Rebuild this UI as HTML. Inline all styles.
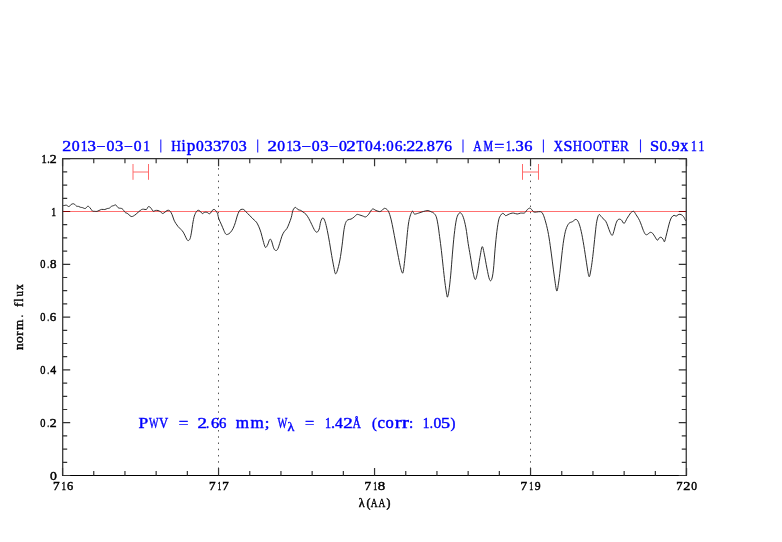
<!DOCTYPE html>
<html><head><meta charset="utf-8"><style>
html,body{margin:0;padding:0;background:#fff;}
svg{display:block;will-change:transform;}
text{font-family:"Liberation Serif", serif;}
</style></head><body>
<svg width="782" height="542" viewBox="0 0 782 542">
<rect width="782" height="542" fill="#fff"/>
<!-- dotted verticals -->
<line x1="218.5" y1="161.915" x2="218.5" y2="475" stroke="#555" stroke-width="1" stroke-dasharray="1.5 4.735"/>
<line x1="530.5" y1="161.915" x2="530.5" y2="475" stroke="#555" stroke-width="1" stroke-dasharray="1.5 4.735"/>
<!-- red unity line -->
<line x1="62.7" y1="211.5" x2="686.25" y2="211.5" stroke="#ff7070" stroke-width="1"/>
<!-- spectrum -->
<path d="M63.00 205.60 C63.20 205.58 63.63 205.57 64.20 205.50 C64.77 205.43 65.60 205.02 66.40 205.20 C67.20 205.38 68.20 206.73 69.00 206.60 C69.80 206.47 70.47 204.88 71.20 204.40 C71.93 203.93 72.82 203.75 73.40 203.75 C73.98 203.75 74.17 203.99 74.70 204.40 C75.23 204.81 75.97 205.87 76.60 206.20 C77.23 206.53 77.85 206.22 78.50 206.40 C79.15 206.58 79.85 207.10 80.50 207.30 C81.15 207.50 81.60 207.40 82.40 207.60 C83.20 207.80 84.40 208.73 85.30 208.50 C86.20 208.27 87.07 206.37 87.80 206.20 C88.53 206.03 89.12 206.95 89.70 207.50 C90.28 208.05 90.82 208.90 91.30 209.50 C91.78 210.10 92.07 210.80 92.60 211.10 C93.13 211.40 93.80 211.25 94.50 211.30 C95.20 211.35 96.05 211.53 96.80 211.40 C97.55 211.27 98.20 210.83 99.00 210.50 C99.80 210.17 100.63 209.57 101.60 209.40 C102.57 209.23 103.85 209.65 104.80 209.50 C105.75 209.35 106.55 208.72 107.30 208.50 C108.05 208.28 108.60 208.57 109.30 208.20 C110.00 207.83 110.82 206.72 111.50 206.30 C112.18 205.88 112.75 205.93 113.40 205.70 C114.05 205.47 114.92 204.95 115.40 204.90 C115.88 204.85 115.88 204.97 116.30 205.40 C116.72 205.83 117.37 207.03 117.90 207.50 C118.43 207.97 118.92 208.05 119.50 208.20 C120.08 208.35 120.82 208.18 121.40 208.40 C121.98 208.62 122.52 209.00 123.00 209.50 C123.48 210.00 123.92 210.88 124.30 211.40 C124.68 211.92 124.82 212.28 125.30 212.60 C125.78 212.92 126.57 212.92 127.20 213.30 C127.83 213.68 128.47 214.38 129.10 214.90 C129.73 215.42 130.42 216.15 131.00 216.40 C131.58 216.65 132.02 216.58 132.60 216.40 C133.18 216.22 133.85 215.72 134.50 215.30 C135.15 214.88 135.85 214.47 136.50 213.90 C137.15 213.33 137.77 212.47 138.40 211.90 C139.03 211.33 139.77 210.90 140.30 210.50 C140.83 210.10 141.07 209.72 141.60 209.50 C142.13 209.28 142.70 209.20 143.50 209.20 C144.30 209.20 145.72 209.78 146.40 209.50 C147.08 209.22 147.23 207.98 147.60 207.50 C147.97 207.02 148.12 206.60 148.60 206.60 C149.08 206.60 149.92 206.97 150.50 207.50 C151.08 208.03 151.62 209.17 152.10 209.80 C152.58 210.43 152.87 211.18 153.40 211.30 C153.93 211.42 154.53 210.63 155.30 210.50 C156.07 210.37 157.12 210.28 158.00 210.50 C158.88 210.72 159.83 211.30 160.60 211.80 C161.37 212.30 161.90 213.42 162.60 213.50 C163.30 213.58 164.05 212.80 164.80 212.30 C165.55 211.80 166.33 210.80 167.10 210.50 C167.87 210.20 168.72 210.12 169.40 210.50 C170.08 210.88 170.67 211.88 171.20 212.80 C171.73 213.72 172.13 214.78 172.60 216.00 C173.07 217.22 173.47 218.87 174.00 220.10 C174.53 221.33 175.12 222.32 175.80 223.40 C176.48 224.48 177.25 225.60 178.10 226.60 C178.95 227.60 180.05 228.48 180.90 229.40 C181.75 230.32 182.50 231.03 183.20 232.10 C183.90 233.17 184.48 234.57 185.10 235.80 C185.72 237.03 186.37 238.70 186.90 239.50 C187.43 240.30 187.77 240.75 188.30 240.60 C188.83 240.45 189.57 240.02 190.10 238.60 C190.63 237.18 191.08 234.45 191.50 232.10 C191.92 229.75 192.27 226.60 192.60 224.50 C192.93 222.40 193.22 220.90 193.50 219.50 C193.78 218.10 193.98 217.12 194.30 216.10 C194.62 215.08 195.03 214.17 195.40 213.40 C195.77 212.63 196.12 212.00 196.50 211.50 C196.88 211.00 197.25 210.57 197.70 210.40 C198.15 210.23 198.70 210.25 199.20 210.50 C199.70 210.75 200.18 211.38 200.70 211.90 C201.22 212.42 201.78 213.47 202.30 213.60 C202.82 213.73 203.30 212.93 203.80 212.70 C204.30 212.47 204.72 212.23 205.30 212.20 C205.88 212.17 206.65 212.23 207.30 212.50 C207.95 212.77 208.63 213.73 209.20 213.80 C209.77 213.87 210.20 213.45 210.70 212.90 C211.20 212.35 211.65 211.08 212.20 210.50 C212.75 209.92 213.45 209.42 214.00 209.40 C214.55 209.38 215.02 209.92 215.50 210.40 C215.98 210.88 216.52 211.62 216.90 212.30 C217.28 212.98 217.48 213.42 217.80 214.50 C218.12 215.58 218.18 217.08 218.80 218.80 C219.42 220.52 220.67 222.88 221.50 224.80 C222.33 226.72 223.10 228.77 223.80 230.30 C224.50 231.83 225.08 233.32 225.70 234.00 C226.32 234.68 226.73 234.63 227.50 234.40 C228.27 234.17 229.37 233.60 230.30 232.60 C231.23 231.60 232.25 230.10 233.10 228.40 C233.95 226.70 234.72 224.47 235.40 222.40 C236.08 220.33 236.58 217.83 237.20 216.00 C237.82 214.17 238.48 212.48 239.10 211.40 C239.72 210.32 240.13 209.82 240.90 209.50 C241.67 209.18 242.85 209.12 243.70 209.50 C244.55 209.88 245.08 210.87 246.00 211.80 C246.92 212.73 248.20 214.10 249.20 215.10 C250.20 216.10 251.17 216.97 252.00 217.80 C252.83 218.63 253.47 219.38 254.20 220.10 C254.93 220.82 255.67 221.08 256.40 222.10 C257.13 223.12 257.85 224.50 258.60 226.20 C259.35 227.90 260.15 229.90 260.90 232.30 C261.65 234.70 262.37 238.10 263.10 240.60 C263.83 243.10 264.57 246.55 265.30 247.30 C266.03 248.05 266.77 246.40 267.50 245.10 C268.23 243.80 269.05 240.25 269.70 239.50 C270.35 238.75 270.75 239.22 271.40 240.60 C272.05 241.98 272.95 246.18 273.60 247.80 C274.25 249.42 274.65 250.02 275.30 250.30 C275.95 250.58 276.77 250.65 277.50 249.50 C278.23 248.35 278.97 245.62 279.70 243.40 C280.43 241.18 281.17 238.13 281.90 236.20 C282.63 234.27 283.27 233.08 284.10 231.80 C284.93 230.52 286.07 229.88 286.90 228.50 C287.73 227.12 288.37 225.35 289.10 223.50 C289.83 221.65 290.65 219.62 291.30 217.40 C291.95 215.18 292.32 211.87 293.00 210.20 C293.68 208.53 294.57 207.50 295.40 207.40 C296.23 207.30 297.12 209.10 298.00 209.60 C298.88 210.10 299.87 210.00 300.70 210.40 C301.53 210.80 302.13 211.37 303.00 212.00 C303.87 212.63 304.92 213.08 305.90 214.20 C306.88 215.32 307.92 216.97 308.90 218.70 C309.88 220.43 310.82 222.63 311.80 224.60 C312.78 226.57 313.93 229.23 314.80 230.50 C315.67 231.77 316.27 232.45 317.00 232.20 C317.73 231.95 318.58 230.77 319.20 229.00 C319.82 227.23 320.08 223.45 320.70 221.60 C321.32 219.75 322.17 217.90 322.90 217.90 C323.63 217.90 324.37 219.50 325.10 221.60 C325.83 223.70 326.57 227.05 327.30 230.50 C328.03 233.95 328.77 238.12 329.50 242.30 C330.23 246.48 330.97 251.42 331.70 255.60 C332.43 259.78 333.30 264.40 333.90 267.40 C334.50 270.40 334.77 272.95 335.30 273.60 C335.83 274.25 336.33 273.57 337.10 271.30 C337.87 269.03 339.07 264.35 339.90 260.00 C340.73 255.65 341.42 250.25 342.10 245.20 C342.78 240.15 343.38 233.50 344.00 229.70 C344.62 225.90 345.13 224.05 345.80 222.40 C346.47 220.75 347.13 220.35 348.00 219.80 C348.87 219.25 350.02 219.53 351.00 219.10 C351.98 218.67 352.92 217.97 353.90 217.20 C354.88 216.43 355.92 214.87 356.90 214.50 C357.88 214.13 358.82 214.75 359.80 215.00 C360.78 215.25 361.82 215.68 362.80 216.00 C363.78 216.32 364.72 217.20 365.70 216.90 C366.68 216.60 367.58 215.50 368.70 214.20 C369.82 212.90 371.18 209.72 372.40 209.10 C373.62 208.48 374.78 210.08 376.00 210.50 C377.22 210.92 378.72 211.60 379.70 211.60 C380.68 211.60 381.08 211.05 381.90 210.50 C382.72 209.95 383.60 208.30 384.60 208.30 C385.60 208.30 386.97 209.20 387.90 210.50 C388.83 211.80 389.48 213.78 390.20 216.10 C390.92 218.42 391.52 221.18 392.20 224.40 C392.88 227.62 393.60 231.72 394.30 235.40 C395.00 239.08 395.70 242.80 396.40 246.50 C397.10 250.20 397.82 254.13 398.50 257.60 C399.18 261.07 399.87 264.77 400.50 267.30 C401.13 269.83 401.83 272.12 402.30 272.80 C402.77 273.48 402.90 273.48 403.30 271.40 C403.70 269.32 404.23 264.45 404.70 260.30 C405.17 256.15 405.65 251.10 406.10 246.50 C406.55 241.90 406.95 236.85 407.40 232.70 C407.85 228.55 408.27 224.60 408.80 221.60 C409.33 218.60 409.97 216.43 410.60 214.70 C411.23 212.97 411.97 211.32 412.60 211.20 C413.23 211.08 413.40 213.68 414.40 214.00 C415.40 214.32 417.12 213.52 418.60 213.10 C420.08 212.68 421.73 211.92 423.30 211.50 C424.87 211.08 426.58 210.50 428.00 210.60 C429.42 210.70 430.88 211.72 431.80 212.10 C432.72 212.48 432.78 212.18 433.50 212.90 C434.22 213.62 435.37 214.50 436.10 216.40 C436.83 218.30 437.32 220.93 437.90 224.30 C438.48 227.67 439.02 232.22 439.60 236.60 C440.18 240.98 440.82 245.65 441.40 250.60 C441.98 255.55 442.52 261.05 443.10 266.30 C443.68 271.55 444.30 277.42 444.90 282.10 C445.50 286.78 446.27 291.92 446.70 294.40 C447.13 296.88 447.13 297.58 447.50 297.00 C447.87 296.42 448.37 294.55 448.90 290.90 C449.43 287.25 450.12 281.23 450.70 275.10 C451.28 268.97 451.82 260.82 452.40 254.10 C452.98 247.38 453.55 240.50 454.20 234.80 C454.85 229.10 455.60 223.35 456.30 219.90 C457.00 216.45 457.67 215.27 458.40 214.10 C459.13 212.93 459.88 212.37 460.70 212.90 C461.52 213.43 462.43 214.82 463.30 217.30 C464.17 219.78 465.08 223.42 465.90 227.80 C466.72 232.18 467.47 238.93 468.20 243.60 C468.93 248.27 469.52 251.13 470.30 255.80 C471.08 260.47 472.08 267.65 472.90 271.60 C473.72 275.55 474.47 279.20 475.20 279.50 C475.93 279.80 476.52 277.05 477.30 273.40 C478.08 269.75 479.08 262.05 479.90 257.60 C480.72 253.15 481.47 247.28 482.20 246.70 C482.93 246.12 483.52 250.53 484.30 254.10 C485.08 257.67 486.03 263.87 486.90 268.10 C487.77 272.33 488.72 277.60 489.50 279.50 C490.28 281.40 490.95 281.10 491.60 279.50 C492.25 277.90 492.82 275.02 493.40 269.90 C493.98 264.78 494.52 255.23 495.10 248.80 C495.68 242.37 496.30 236.12 496.90 231.30 C497.50 226.48 498.10 222.53 498.70 219.90 C499.30 217.27 499.87 216.58 500.50 215.50 C501.13 214.42 501.92 213.65 502.50 213.40 C503.08 213.15 503.47 213.62 504.00 214.00 C504.53 214.38 505.03 215.60 505.70 215.70 C506.37 215.80 507.13 214.98 508.00 214.60 C508.87 214.22 509.95 213.65 510.90 213.40 C511.85 213.15 512.65 213.00 513.70 213.10 C514.75 213.20 516.05 214.00 517.20 214.00 C518.35 214.00 519.37 213.28 520.60 213.10 C521.83 212.92 523.45 213.52 524.60 212.90 C525.75 212.28 526.60 210.20 527.50 209.40 C528.40 208.60 529.25 208.00 530.00 208.10 C530.75 208.20 531.37 209.35 532.00 210.00 C532.63 210.65 533.03 211.67 533.80 212.00 C534.57 212.33 535.47 212.05 536.60 212.00 C537.73 211.95 539.55 211.37 540.60 211.70 C541.65 212.03 542.12 212.48 542.90 214.00 C543.68 215.52 544.47 217.92 545.30 220.80 C546.13 223.68 547.08 227.22 547.90 231.30 C548.72 235.38 549.47 240.33 550.20 245.30 C550.93 250.27 551.60 255.83 552.30 261.10 C553.00 266.37 553.67 271.93 554.40 276.90 C555.13 281.87 556.03 289.73 556.70 290.90 C557.37 292.07 557.82 287.40 558.40 283.90 C558.98 280.40 559.62 274.87 560.20 269.90 C560.78 264.93 561.32 259.07 561.90 254.10 C562.48 249.13 563.03 244.20 563.70 240.10 C564.37 236.00 565.03 232.28 565.90 229.50 C566.77 226.72 567.82 224.70 568.90 223.40 C569.98 222.10 571.23 222.37 572.40 221.70 C573.57 221.03 574.87 219.27 575.90 219.40 C576.93 219.53 577.72 220.52 578.60 222.50 C579.48 224.48 580.33 227.50 581.20 231.30 C582.07 235.10 582.92 240.05 583.80 245.30 C584.68 250.55 585.77 258.12 586.50 262.80 C587.23 267.48 587.72 271.10 588.20 273.40 C588.68 275.70 588.95 277.18 589.40 276.60 C589.85 276.02 590.40 272.73 590.90 269.90 C591.40 267.07 591.90 263.53 592.40 259.60 C592.90 255.67 593.42 250.73 593.90 246.30 C594.38 241.87 594.82 237.18 595.30 233.00 C595.78 228.82 596.18 224.27 596.80 221.20 C597.42 218.13 598.13 215.22 599.00 214.60 C599.87 213.98 600.88 216.40 602.00 217.50 C603.12 218.60 604.72 219.72 605.70 221.20 C606.68 222.68 607.17 224.55 607.90 226.40 C608.63 228.25 609.37 230.82 610.10 232.30 C610.83 233.78 611.62 235.67 612.30 235.30 C612.98 234.93 613.58 232.08 614.20 230.10 C614.82 228.12 615.33 225.17 616.00 223.40 C616.67 221.63 617.33 220.10 618.20 219.50 C619.07 218.90 620.22 219.15 621.20 219.80 C622.18 220.45 623.12 223.65 624.10 223.40 C625.08 223.15 626.12 219.88 627.10 218.30 C628.08 216.72 629.28 214.92 630.00 213.90 C630.72 212.88 630.77 212.62 631.40 212.20 C632.03 211.78 633.07 211.05 633.80 211.40 C634.53 211.75 635.15 213.33 635.80 214.30 C636.45 215.27 637.07 216.15 637.70 217.20 C638.33 218.25 638.97 219.23 639.60 220.60 C640.23 221.97 640.87 223.73 641.50 225.40 C642.13 227.07 642.75 229.12 643.40 230.60 C644.05 232.08 644.75 233.65 645.40 234.30 C646.05 234.95 646.50 234.82 647.30 234.50 C648.10 234.18 649.32 232.60 650.20 232.40 C651.08 232.20 651.80 232.55 652.60 233.30 C653.40 234.05 654.20 235.75 655.00 236.90 C655.80 238.05 656.68 240.05 657.40 240.20 C658.12 240.35 658.67 238.28 659.30 237.80 C659.93 237.32 660.57 237.05 661.20 237.30 C661.83 237.55 662.55 238.57 663.10 239.30 C663.65 240.03 664.02 242.18 664.50 241.70 C664.98 241.22 665.43 238.57 666.00 236.40 C666.57 234.23 667.27 231.18 667.90 228.70 C668.53 226.22 669.17 223.42 669.80 221.50 C670.43 219.58 670.98 218.23 671.70 217.20 C672.42 216.17 673.37 215.47 674.10 215.30 C674.83 215.13 675.45 216.28 676.10 216.20 C676.75 216.12 677.37 215.12 678.00 214.80 C678.63 214.48 679.18 214.22 679.90 214.30 C680.62 214.38 681.58 214.73 682.30 215.30 C683.02 215.87 683.63 216.75 684.20 217.70 C684.77 218.65 685.45 220.45 685.70 221.00" fill="none" stroke="#222" stroke-width="0.95" stroke-linejoin="round"/>
<!-- error bars -->
<g stroke="#ff6a6a" stroke-width="1" fill="none">
<path d="M133 164 V179.8 M148.5 164 V179.8 M133 172 H148.5"/>
<path d="M522.5 164 V179.8 M538.5 164 V179.8 M522.5 172 H538.5"/>
</g>
<!-- frame -->
<path d="M62.7 158.1 V476.0 M686.25 158.1 V476.0 M62.1 158.7 H686.85" fill="none" stroke="#333" stroke-width="1.25"/>
<path d="M62.1 475.5 H686.85" fill="none" stroke="#000" stroke-width="1"/>
<path d="M62.55 475.50 L62.55 468.00 M62.55 158.70 L62.55 166.20 M93.75 475.50 L93.75 471.00 M93.75 158.70 L93.75 163.20 M124.95 475.50 L124.95 471.00 M124.95 158.70 L124.95 163.20 M156.15 475.50 L156.15 471.00 M156.15 158.70 L156.15 163.20 M187.35 475.50 L187.35 471.00 M187.35 158.70 L187.35 163.20 M218.55 475.50 L218.55 468.00 M218.55 158.70 L218.55 166.20 M249.75 475.50 L249.75 471.00 M249.75 158.70 L249.75 163.20 M280.95 475.50 L280.95 471.00 M280.95 158.70 L280.95 163.20 M312.15 475.50 L312.15 471.00 M312.15 158.70 L312.15 163.20 M343.35 475.50 L343.35 471.00 M343.35 158.70 L343.35 163.20 M374.55 475.50 L374.55 468.00 M374.55 158.70 L374.55 166.20 M405.75 475.50 L405.75 471.00 M405.75 158.70 L405.75 163.20 M436.95 475.50 L436.95 471.00 M436.95 158.70 L436.95 163.20 M468.15 475.50 L468.15 471.00 M468.15 158.70 L468.15 163.20 M499.35 475.50 L499.35 471.00 M499.35 158.70 L499.35 163.20 M530.55 475.50 L530.55 468.00 M530.55 158.70 L530.55 166.20 M561.75 475.50 L561.75 471.00 M561.75 158.70 L561.75 163.20 M592.95 475.50 L592.95 471.00 M592.95 158.70 L592.95 163.20 M624.15 475.50 L624.15 471.00 M624.15 158.70 L624.15 163.20 M655.35 475.50 L655.35 471.00 M655.35 158.70 L655.35 163.20 M686.55 475.50 L686.55 468.00 M686.55 158.70 L686.55 166.20 M62.70 475.50 L70.20 475.50 M686.25 475.50 L678.75 475.50 M62.70 462.30 L67.20 462.30 M686.25 462.30 L681.75 462.30 M62.70 449.10 L67.20 449.10 M686.25 449.10 L681.75 449.10 M62.70 435.90 L67.20 435.90 M686.25 435.90 L681.75 435.90 M62.70 422.70 L70.20 422.70 M686.25 422.70 L678.75 422.70 M62.70 409.50 L67.20 409.50 M686.25 409.50 L681.75 409.50 M62.70 396.30 L67.20 396.30 M686.25 396.30 L681.75 396.30 M62.70 383.10 L67.20 383.10 M686.25 383.10 L681.75 383.10 M62.70 369.90 L70.20 369.90 M686.25 369.90 L678.75 369.90 M62.70 356.70 L67.20 356.70 M686.25 356.70 L681.75 356.70 M62.70 343.50 L67.20 343.50 M686.25 343.50 L681.75 343.50 M62.70 330.30 L67.20 330.30 M686.25 330.30 L681.75 330.30 M62.70 317.10 L70.20 317.10 M686.25 317.10 L678.75 317.10 M62.70 303.90 L67.20 303.90 M686.25 303.90 L681.75 303.90 M62.70 290.70 L67.20 290.70 M686.25 290.70 L681.75 290.70 M62.70 277.50 L67.20 277.50 M686.25 277.50 L681.75 277.50 M62.70 264.30 L70.20 264.30 M686.25 264.30 L678.75 264.30 M62.70 251.10 L67.20 251.10 M686.25 251.10 L681.75 251.10 M62.70 237.90 L67.20 237.90 M686.25 237.90 L681.75 237.90 M62.70 224.70 L67.20 224.70 M686.25 224.70 L681.75 224.70 M62.70 211.50 L70.20 211.50 M686.25 211.50 L678.75 211.50 M62.70 198.30 L67.20 198.30 M686.25 198.30 L681.75 198.30 M62.70 185.10 L67.20 185.10 M686.25 185.10 L681.75 185.10 M62.70 171.90 L67.20 171.90 M686.25 171.90 L681.75 171.90 M62.70 158.70 L70.20 158.70 M686.25 158.70 L678.75 158.70" stroke="#333" stroke-width="1.2" fill="none"/>
<path d="M63.3 211.5 H70.0 M679.0 211.5 H685.7" stroke="#8a0000" stroke-width="1"/>
<!-- title -->
<g class="gs" fill="#0000ff" stroke="#0000ff" stroke-width="0.4" font-size="13.7">
<text transform="translate(62.31 150.50) scale(1.311 1.000)">2</text>
<text transform="translate(71.70 150.50) scale(1.154 1.000)">0</text>
<text transform="translate(80.70 150.50) scale(0.995 1.000)">1</text>
<text transform="translate(87.49 150.50) scale(1.237 1.000)">3</text>
<text transform="translate(96.51 150.50) scale(1.161 1.000)">−</text>
<text transform="translate(106.60 150.50) scale(1.154 1.000)">0</text>
<text transform="translate(115.10 150.50) scale(1.219 1.000)">3</text>
<text transform="translate(124.02 150.50) scale(1.145 1.000)">−</text>
<text transform="translate(133.81 150.50) scale(1.137 1.000)">0</text>
<text transform="translate(143.13 150.50) scale(0.974 1.000)">1</text>
<text transform="translate(171.21 150.50) scale(0.978 1.000)">H</text>
<text transform="translate(181.49 150.50) scale(1.074 1.150)">i</text>
<text transform="translate(186.72 150.50) scale(1.247 1.150)">p</text>
<text transform="translate(195.91 150.50) scale(1.137 1.000)">0</text>
<text transform="translate(204.29 150.50) scale(1.237 1.000)">3</text>
<text transform="translate(212.89 150.50) scale(1.237 1.000)">3</text>
<text transform="translate(220.98 150.50) scale(1.243 1.000)">7</text>
<text transform="translate(230.41 150.50) scale(1.137 1.000)">0</text>
<text transform="translate(238.84 150.50) scale(1.166 1.000)">3</text>
<text transform="translate(267.47 150.50) scale(1.384 1.000)">2</text>
<text transform="translate(277.31 150.50) scale(1.137 1.000)">0</text>
<text transform="translate(286.40 150.50) scale(0.912 1.000)">1</text>
<text transform="translate(292.80 150.50) scale(1.219 1.000)">3</text>
<text transform="translate(301.55 150.50) scale(1.239 1.000)">−</text>
<text transform="translate(311.70 150.50) scale(1.154 1.000)">0</text>
<text transform="translate(320.20 150.50) scale(1.219 1.000)">3</text>
<text transform="translate(329.09 150.50) scale(1.192 1.000)">−</text>
<text transform="translate(338.90 150.50) scale(1.154 1.000)">0</text>
<text transform="translate(346.27 150.50) scale(1.384 1.000)">2</text>
<text transform="translate(356.47 150.50) scale(0.925 1.000)">T</text>
<text transform="translate(365.11 150.50) scale(1.137 1.000)">0</text>
<text transform="translate(373.40 150.50) scale(1.131 1.000)">4</text>
<text transform="translate(381.89 150.50) scale(0.930 1.000)">:</text>
<text transform="translate(386.23 150.50) scale(1.085 1.000)">0</text>
<text transform="translate(394.64 150.50) scale(1.128 1.000)">6</text>
<text transform="translate(402.82 150.50) scale(0.992 1.000)">:</text>
<text transform="translate(406.30 150.50) scale(1.329 1.000)">2</text>
<text transform="translate(415.04 150.50) scale(1.256 1.000)">2</text>
<text transform="translate(423.26 150.50) scale(0.927 1.000)">.</text>
<text transform="translate(426.78 150.50) scale(1.188 1.000)">8</text>
<text transform="translate(435.36 150.50) scale(1.261 1.000)">7</text>
<text transform="translate(444.24 150.50) scale(1.128 1.000)">6</text>
<text transform="translate(473.29 150.50) scale(0.849 1.000)">A</text>
<text transform="translate(483.59 150.50) scale(0.782 1.000)">M</text>
<text transform="translate(494.21 150.50) scale(1.302 1.000)">=</text>
<text transform="translate(506.08 150.50) scale(0.767 1.000)">1</text>
<text transform="translate(511.34 150.50) scale(1.174 1.000)">.</text>
<text transform="translate(515.61 150.50) scale(1.202 1.000)">3</text>
<text transform="translate(524.20 150.50) scale(1.196 1.000)">6</text>
<text transform="translate(553.72 150.50) scale(0.920 1.000)">X</text>
<text transform="translate(563.52 150.50) scale(1.179 1.000)">S</text>
<text transform="translate(572.83 150.50) scale(0.945 1.000)">H</text>
<text transform="translate(582.87 150.50) scale(0.946 1.000)">O</text>
<text transform="translate(593.00 150.50) scale(0.889 1.000)">O</text>
<text transform="translate(601.76 150.50) scale(0.963 1.000)">T</text>
<text transform="translate(610.89 150.50) scale(1.042 1.000)">E</text>
<text transform="translate(619.92 150.50) scale(0.974 1.000)">R</text>
<text transform="translate(650.10 150.50) scale(1.196 1.000)">S</text>
<text transform="translate(659.61 150.50) scale(1.137 1.000)">0</text>
<text transform="translate(667.50 150.50) scale(1.112 1.000)">.</text>
<text transform="translate(671.57 150.50) scale(1.197 1.000)">9</text>
<text transform="translate(680.26 150.50) scale(1.158 1.150)">x</text>
<text transform="translate(690.88 150.50) scale(0.850 1.000)">1</text>
<text transform="translate(698.58 150.50) scale(0.850 1.000)">1</text>
</g>
<g stroke="#2020ff" stroke-width="1.1">
<line x1="160.8" y1="139.4" x2="160.8" y2="152.5"/>
<line x1="257.7" y1="139.4" x2="257.7" y2="152.5"/>
<line x1="463.0" y1="139.4" x2="463.0" y2="152.5"/>
<line x1="543.4" y1="139.4" x2="543.4" y2="152.5"/>
<line x1="640.5" y1="139.4" x2="640.5" y2="152.5"/>
</g>
<!-- PWV -->
<g class="gs" fill="#0000ff" stroke="#0000ff" stroke-width="0.4" font-size="14.0">
<text transform="translate(138.60 427.70) scale(1.246 1.000)">P</text>
<text transform="translate(148.99 427.70) scale(0.721 1.000)">W</text>
<text transform="translate(159.06 427.70) scale(0.909 1.000)">V</text>
<text transform="translate(178.85 427.70) scale(1.213 1.000)">=</text>
<text transform="translate(197.47 427.70) scale(1.354 1.000)">2</text>
<text transform="translate(206.06 427.70) scale(0.907 1.000)">.</text>
<text transform="translate(211.01 427.70) scale(1.154 1.000)">6</text>
<text transform="translate(219.07 427.70) scale(1.053 1.000)">6</text>
<text transform="translate(235.74 427.70) scale(1.224 1.150)">m</text>
<text transform="translate(250.44 427.70) scale(1.224 1.150)">m</text>
<text transform="translate(264.63 427.70) scale(1.195 1.000)">;</text>
<text transform="translate(277.39 427.70) scale(0.744 1.000)">W</text>
<text transform="translate(304.99 427.70) scale(1.167 1.000)">=</text>
<text transform="translate(324.93 427.70) scale(0.872 1.000)">1</text>
<text transform="translate(330.94 427.70) scale(1.149 1.000)">.</text>
<text transform="translate(334.89 427.70) scale(1.122 1.000)">4</text>
<text transform="translate(343.37 427.70) scale(1.354 1.000)">2</text>
<text transform="translate(352.39 427.70) scale(0.831 1.000)">Å</text>
<text transform="translate(372.07 427.70) scale(1.029 1.000)">(</text>
<text transform="translate(377.46 427.70) scale(1.200 1.150)">c</text>
<text transform="translate(385.47 427.70) scale(1.180 1.150)">o</text>
<text transform="translate(394.69 427.70) scale(1.479 1.150)">r</text>
<text transform="translate(401.99 427.70) scale(1.479 1.150)">r</text>
<text transform="translate(408.89 427.70) scale(1.093 1.000)">:</text>
<text transform="translate(422.73 427.70) scale(0.954 1.000)">1</text>
<text transform="translate(429.76 427.70) scale(0.907 1.000)">.</text>
<text transform="translate(433.51 427.70) scale(1.112 1.000)">0</text>
<text transform="translate(441.05 427.70) scale(1.294 1.000)">5</text>
<text transform="translate(450.52 427.70) scale(1.057 1.000)">)</text>
<g font-size="12"><text transform="translate(287.53 431.20) scale(1.177 1.000)">λ</text></g>
</g>
<!-- y tick labels -->
<g class="gs" fill="#000" stroke="#000" stroke-width="0.45" font-size="12.3">
<text transform="translate(41.58 162.80) scale(0.854 1.000)">1</text>
<text transform="translate(47.13 162.80) scale(0.826 1.000)">.</text>
<text transform="translate(49.80 162.80) scale(1.115 1.000)">2</text>
<text transform="translate(51.35 215.60) scale(0.785 1.000)">1</text>
<text transform="translate(40.30 268.40) scale(0.844 1.000)">0</text>
<text transform="translate(47.30 268.40) scale(0.619 1.000)">.</text>
<text transform="translate(49.91 268.40) scale(1.055 1.000)">8</text>
<text transform="translate(40.30 321.20) scale(0.844 1.000)">0</text>
<text transform="translate(47.30 321.20) scale(0.619 1.000)">.</text>
<text transform="translate(49.85 321.20) scale(1.047 1.000)">6</text>
<text transform="translate(40.30 374.00) scale(0.844 1.000)">0</text>
<text transform="translate(47.30 374.00) scale(0.619 1.000)">.</text>
<text transform="translate(50.17 374.00) scale(0.962 1.000)">4</text>
<text transform="translate(40.30 426.80) scale(0.844 1.000)">0</text>
<text transform="translate(47.30 426.80) scale(0.619 1.000)">.</text>
<text transform="translate(49.80 426.80) scale(1.115 1.000)">2</text>
<text transform="translate(49.88 479.60) scale(1.113 1.000)">0</text>
</g>
<g class="gs" fill="#000" stroke="#000" stroke-width="0.45" font-size="12.3">
<text transform="translate(53.12 490.10) scale(1.083 1.000)">7</text>
<text transform="translate(61.50 490.10) scale(0.739 1.000)">1</text>
<text transform="translate(66.97 490.10) scale(1.009 1.000)">6</text>
<text transform="translate(209.08 490.10) scale(1.073 1.000)">7</text>
<text transform="translate(217.53 490.10) scale(0.624 1.000)">1</text>
<text transform="translate(222.14 490.10) scale(1.063 1.000)">7</text>
<text transform="translate(364.62 490.10) scale(1.083 1.000)">7</text>
<text transform="translate(373.20 490.10) scale(0.647 1.000)">1</text>
<text transform="translate(377.73 490.10) scale(1.208 1.000)">8</text>
<text transform="translate(520.42 490.10) scale(1.083 1.000)">7</text>
<text transform="translate(529.30 490.10) scale(0.647 1.000)">1</text>
<text transform="translate(534.72 490.10) scale(0.953 1.000)">9</text>
<text transform="translate(676.37 490.10) scale(1.023 1.000)">7</text>
<text transform="translate(683.28 490.10) scale(1.156 1.000)">2</text>
<text transform="translate(691.36 490.10) scale(0.940 1.000)">0</text>
</g>
<g class="gs" fill="#000" stroke="#000" stroke-width="0.45" font-size="11.8">
<text x="358.8" y="506.8" textLength="5.9" lengthAdjust="spacingAndGlyphs">λ</text>
<text x="366.6" y="506.6">(</text>
<text x="370.7" y="506.8" textLength="6.8" lengthAdjust="spacingAndGlyphs">A</text>
<text x="378.6" y="506.8" textLength="6.8" lengthAdjust="spacingAndGlyphs">A</text>
<text x="386.6" y="506.6">)</text>
</g>
<g class="gs" fill="#000" stroke="#000" stroke-width="0.4" font-size="12.4" transform="translate(22.8 0) rotate(-90)">
<text transform="translate(-350.01 0.00) scale(1.100 1.000)">n</text>
<text transform="translate(-343.12 0.00) scale(1.104 1.000)">o</text>
<text transform="translate(-335.77 0.00) scale(1.087 1.000)">r</text>
<text transform="translate(-329.98 0.00) scale(1.077 1.000)">m</text>
<text transform="translate(-317.31 0.00) scale(0.751 1.000)">.</text>
<text transform="translate(-307.11 0.00) scale(1.067 1.000)">f</text>
<text transform="translate(-301.82 0.00) scale(0.882 1.000)">l</text>
<text transform="translate(-296.54 0.00) scale(0.876 1.000)">u</text>
<text transform="translate(-289.90 0.00) scale(0.926 1.000)">x</text>
</g>
</svg>
</body></html>
